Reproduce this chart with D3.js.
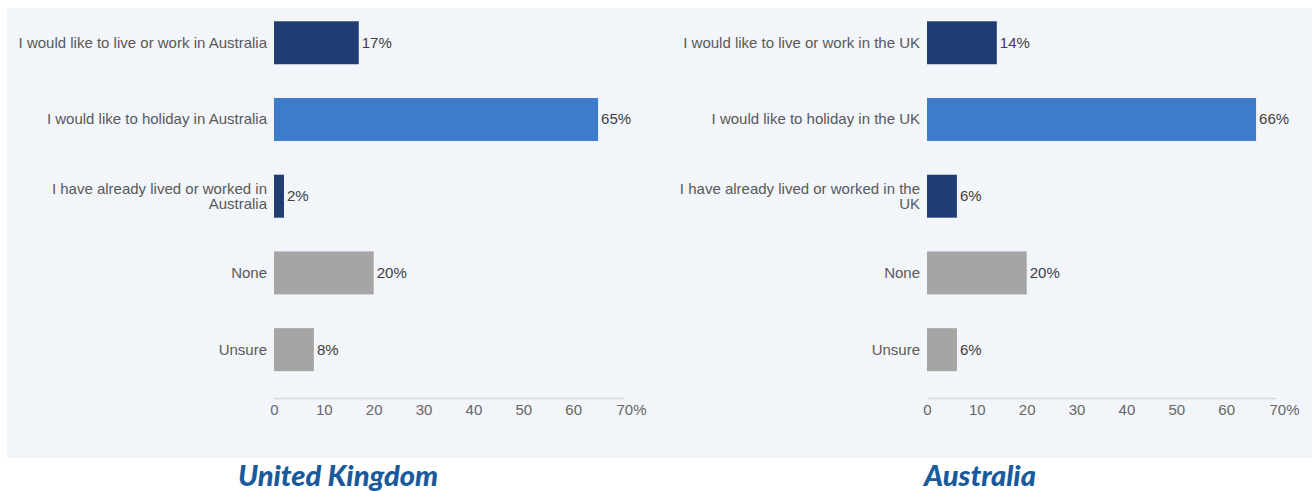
<!DOCTYPE html>
<html><head><meta charset="utf-8">
<script src="https://cdn.jsdelivr.net/npm/d3@7/dist/d3.min.js"></script>
<style>
html,body{margin:0;padding:0;background:#fff;}
svg{display:block;}
</style></head>
<body>
<svg id="c" width="1312" height="491"></svg>
<script>
const ukCategories = ["I would like to live or work in Australia","I would like to holiday in Australia","I have already lived or worked in Australia","None","Unsure"];
const ukValues = [17, 65, 2, 20, 8];
const auCategories = ["I would like to live or work in the UK","I would like to holiday in the UK","I have already lived or worked in the UK","None","Unsure"];
const auValues = [14, 66, 6, 20, 6];
const barKinds = ["dark","bright","dark","grey","grey"];
const tickValues = [0,10,20,30,40,50,60,70];
const panelTitles = ["United Kingdom","Australia"];

const colors = {dark:"#1f3d72", bright:"#3c7ccb", grey:"#a5a5a5"};
const FONT = "'Liberation Sans', Arial, sans-serif";
const svg = d3.select("#c");
svg.append("rect").attr("x",7).attr("y",8).attr("width",1305).attr("height",450).attr("fill","#f2f5f9");

const panels = [
  {cats: ukCategories, vals: ukValues, x0: 274, x1: 623, title: panelTitles[0], tx: 338},
  {cats: auCategories, vals: auValues, x0: 927, x1: 1276, title: panelTitles[1], tx: 980}
];

function wrap(textSel, width){
  textSel.each(function(){
    const t = d3.select(this);
    const words = t.text().split(/\s+/);
    t.text(null);
    let lines=[], line=[];
    const tmp = t.append("tspan");
    for(const w of words){
      line.push(w);
      tmp.text(line.join(" "));
      if(tmp.node().getComputedTextLength()>width && line.length>1){
        line.pop(); lines.push(line.join(" ")); line=[w];
      }
    }
    lines.push(line.join(" "));
    tmp.remove();
    const lh = 15;
    const startDy = -(lines.length-1)*lh/2;
    lines.forEach((l,i)=>{
      t.append("tspan").attr("x", t.attr("x")).attr("dy", i===0 ? (startDy+5)+"px" : lh+"px").text(l);
    });
  });
}

panels.forEach(p=>{
  const x = d3.scaleLinear().domain([0,70]).range([p.x0,p.x1]);
  const y = d3.scaleBand().domain(p.cats).range([4.4,388]).paddingInner(0.44).paddingOuter(0.22);
  const g = svg.append("g");
  const data = p.cats.map((c,i)=>({c, v:p.vals[i], k:barKinds[i]}));
  g.selectAll("rect.bar").data(data).join("rect").attr("class","bar")
    .attr("x", x(0)).attr("y", d=>y(d.c)).attr("width", d=>x(d.v)-x(0)).attr("height", y.bandwidth())
    .attr("fill", d=>colors[d.k]);
  g.selectAll("text.val").data(data).join("text").attr("class","val")
    .attr("x", d=>x(d.v)+3).attr("y", d=>y(d.c)+y.bandwidth()/2).attr("dy","5px")
    .attr("font-family",FONT).attr("font-size","15px").attr("fill","#404040")
    .text(d=>d.v+"%");
  g.selectAll("text.cat").data(data).join("text").attr("class","cat")
    .attr("x", x(0)-7).attr("y", d=>y(d.c)+y.bandwidth()/2)
    .attr("text-anchor","end")
    .attr("font-family",FONT).attr("font-size","15px").attr("fill","#595959")
    .text(d=>d.c)
    .call(wrap, 256);
  const axis = d3.axisBottom(x).tickValues(tickValues).tickSize(0).tickPadding(6)
    .tickFormat(d=> d===70 ? "70%" : d);
  const ag = g.append("g").attr("transform","translate(0,398)").call(axis);
  ag.select(".domain").attr("stroke","#d9d9d9").attr("stroke-width",1.5);
  ag.selectAll(".tick text").attr("font-family",FONT).attr("font-size","15px").attr("fill","#666")
    .attr("dx", d=> d===70 ? "8px" : 0);
  svg.append("text").attr("x", p.tx).attr("y", 486).attr("text-anchor","middle")
    .attr("font-family","Lato, 'Open Sans', sans-serif").attr("font-weight",900).attr("font-style","italic")
    .attr("font-size","29px").attr("fill","#185a9c").text(p.title);
});
</script>
</body></html>
